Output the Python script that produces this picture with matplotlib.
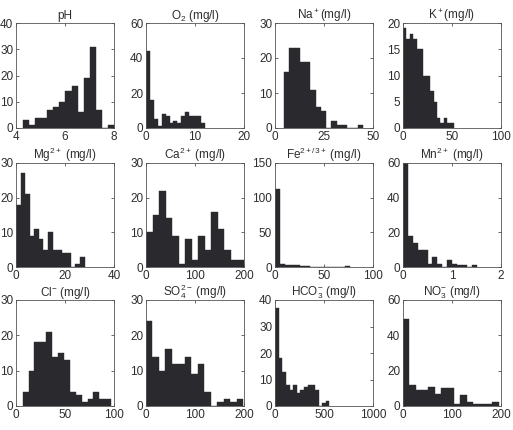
import numpy as np
import matplotlib
matplotlib.use("Agg")
import matplotlib.pyplot as plt

plt.rcParams['font.family'] = ['Liberation Sans', 'DejaVu Sans']
plt.rcParams['mathtext.fontset'] = 'custom'
plt.rcParams['mathtext.rm'] = 'Liberation Sans'
plt.rcParams['mathtext.it'] = 'Liberation Sans:italic'
plt.rcParams['mathtext.bf'] = 'Liberation Sans:bold'

# histogram counts (15 bins each) and the range they span
titles = ["pH", "O$_2$ (mg/l)", "Na$^+$(mg/l)", "K$^+$(mg/l)",
          "Mg$^{2+}$ (mg/l)", "Ca$^{2+}$ (mg/l)", "Fe$^{2+/3+}$ (mg/l)", "Mn$^{2+}$ (mg/l)",
          "Cl$^{-}$ (mg/l)", "SO$_4^{2-}$ (mg/l)", "HCO$_3^{-}$ (mg/l)", "NO$_3^{-}$ (mg/l)"]

ph = [3, 1, 4, 4, 7, 8, 10, 14, 16, 6, 19, 31, 7, 0, 1]
o2 = [44, 16, 5, 1, 8, 7, 3, 4, 3, 7, 9, 7, 7, 7, 3]
na = [16, 23, 23, 19, 19, 11, 6, 5, 0, 2, 1, 1, 0, 0, 1]
k = [19, 17, 18, 17, 15, 15, 10, 10, 7, 5, 2, 1, 2, 1, 1]
mg = [18, 27, 21, 9, 11, 8, 5, 10, 5, 5, 4, 4, 0, 1, 3]
ca = [10, 15, 22, 14, 9, 1, 8, 2, 9, 5, 16, 11, 5, 2, 2]
fe = [113, 4, 3, 3, 3, 1, 1, 0, 0, 0, 0, 0, 0, 0, 1]
mn = [60, 18, 14, 10, 10, 2, 6, 2, 0, 4, 2, 1, 1, 0, 1]
cl = [4, 10, 18, 18, 21, 14, 15, 13, 4, 3, 1, 2, 4, 2, 2]
so4 = [24, 14, 10, 16, 12, 12, 14, 9, 12, 4, 0, 1, 2, 1, 2]
hco3 = [37, 18, 13, 8, 6, 8, 5, 6, 7, 8, 8, 6, 0, 1, 2]
no3 = [49, 12, 9, 9, 11, 7, 10, 10, 1, 6, 2, 1, 1, 1, 2]

counts = [ph, o2, na, k, mg, ca, fe, mn, cl, so4, hco3, no3]
ranges = [(4.27, 8.02), (0, 12), (4.7, 44.8), (0, 52),
          (0, 28), (0, 200), (0, 77), (0, 1.5),
          (6.85, 97), (0, 198), (0, 555), (0, 195)]

xlims = [(4, 8), (0, 20), (0, 50), (0, 100),
         (0, 40), (0, 200), (0, 100), (0, 2),
         (0, 100), (0, 200), (0, 1000), (0, 200)]
ylims = [40, 60, 30, 20, 30, 30, 150, 60, 30, 30, 40, 60]
xticks = [[4, 6, 8], [0, 10, 20], [0, 25, 50], [0, 50, 100],
          [0, 20, 40], [0, 100, 200], [0, 50, 100], [0, 1, 2],
          [0, 50, 100], [0, 100, 200], [0, 500, 1000], [0, 100, 200]]
ysteps = [10, 20, 10, 5, 10, 10, 50, 20, 10, 10, 10, 20]

W, H = 513, 430
fig = plt.figure(figsize=(W / 100, H / 100), dpi=100)

lefts = [16, 146, 275, 403]
rows = [(23, 128), (163, 267), (300, 406)]
aw = 98

txt = '#2e2e2e'
for i in range(12):
    r, c = divmod(i, 4)
    top, bot = rows[r]
    ax = fig.add_axes([lefts[c] / W, 1 - bot / H, aw / W, (bot - top) / H])
    edges = np.linspace(ranges[i][0], ranges[i][1], len(counts[i]) + 1)
    ax.bar(edges[:-1], counts[i], width=np.diff(edges), align='edge',
           color='#2a2a2e', edgecolor='#2a2a2e', linewidth=0.3)
    ax.set_xlim(*xlims[i])
    ax.set_ylim(0, ylims[i])
    ax.set_xticks(xticks[i])
    ax.set_yticks(np.arange(0, ylims[i] + 1, ysteps[i]))
    ax.tick_params(direction='in', length=2, width=0.5, labelsize=8.5,
                   colors=txt, pad=2, top=True, right=True)
    for s in ax.spines.values():
        s.set_linewidth(0.6)
        s.set_color('#555555')
    ax.set_title(titles[i], fontsize=8.5, color=txt, pad=3)

fig.savefig("out.png", dpi=100)
